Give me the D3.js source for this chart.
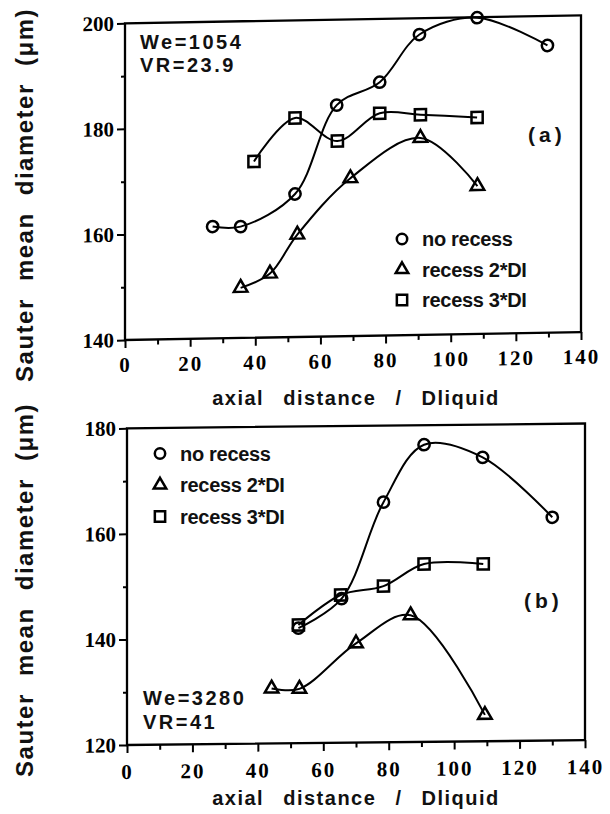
<!DOCTYPE html>
<meta charset="utf-8">
<style>
body { margin: 0; background: #fff; }
svg { display: block; }
.frame { fill: none; stroke: #000; stroke-width: 2.3px; }
.axis path { display: none; }
.axis line { stroke: #000; stroke-width: 2px; }
.curve { fill: none; stroke: #000; stroke-width: 2px; }
.marker { fill: none; stroke: #000; stroke-width: 2.5px; }
.lbl { font-family: "Liberation Sans", Arial, sans-serif; font-weight: bold; fill: #111; }
</style>
<svg width="610" height="814"></svg>
<script src="https://d3js.org/d3.v7.min.js"></script>
<script>

// x ticks, shared by both panels
var xMajor = [0, 20, 40, 60, 80, 100, 120, 140];
var xMinor = [10, 30, 50, 70, 90, 110, 130];

// panel (a): We=1054, VR=23.9
var aNoRecessX = [26.9, 35.5, 52.2, 65.0, 78.2, 90.4, 108.1, 129.7];
var aNoRecessY = [161.2, 161.1, 167.1, 183.8, 188.0, 196.9, 199.9, 194.4];
var aRecess2X  = [35.5, 44.5, 52.9, 69.2, 90.7, 108.2];
var aRecess2Y  = [149.5, 152.1, 159.4, 169.9, 177.3, 168.0];
var aRecess3X  = [39.6, 52.2, 65.2, 78.2, 90.7, 108.1];
var aRecess3Y  = [173.4, 181.5, 177.0, 182.1, 181.7, 181.0];
var aYMajor = [140, 160, 180, 200];
var aYMinor = [150, 170, 190];

// panel (b): We=3280, VR=41
var bNoRecessX = [52.4, 65.6, 78.4, 90.8, 108.7, 130.0];
var bNoRecessY = [141.8, 147.3, 165.5, 176.3, 173.8, 162.3];
var bRecess2X  = [44.2, 52.7, 70.0, 86.7, 109.4];
var bRecess2Y  = [130.4, 130.3, 138.8, 144.0, 125.0];
var bRecess3X  = [52.4, 65.3, 78.4, 90.8, 108.9];
var bRecess3Y  = [142.4, 148.0, 149.6, 153.7, 153.6];
var bYMajor = [120, 140, 160, 180];
var bYMinor = [130, 150, 170];

var legendNames = ["no recess", "recess 2*DI", "recess 3*DI"];
var symbols = [d3.symbolCircle, d3.symbolTriangle, d3.symbolSquare];
var symbolSizes = [100, 80, 125];

var svg = d3.select("svg");

function zip(xs, ys) { return xs.map(function(x, i) { return [x, ys[i]]; }); }

function tickFont(sel, spacing) {
  sel.selectAll("text")
      .style("font-family", "'Liberation Serif', 'Times New Roman', serif")
      .style("font-weight", "bold")
      .style("font-size", "21px")
      .style("letter-spacing", spacing)
      .style("fill", "#000");
}

function drawPanel(p) {
  // the scan is slightly skewed, so the plot body is too
  var g = svg.append("g")
      .attr("transform", "translate(" + p.ox + "," + p.oy + ") skewY(" + p.skew + ")");

  var x = d3.scaleLinear().domain([0, 140]).range([0, p.w]);
  var y = d3.scaleLinear().domain(p.yDomain).range([p.h, 0]);

  g.append("rect").attr("class", "frame")
      .attr("width", p.w).attr("height", p.h);

  g.append("g").attr("class", "axis")
      .attr("transform", "translate(0," + p.h + ")")
      .call(d3.axisBottom(x).tickValues(xMajor).tickSize(8).tickPadding(p.xPad).tickFormat(d3.format("d")))
      .call(tickFont, "2px");
  g.append("g").attr("class", "axis")
      .attr("transform", "translate(0," + p.h + ")")
      .call(d3.axisBottom(x).tickValues(xMinor).tickSize(5).tickFormat(""));

  g.append("g").attr("class", "axis")
      .call(d3.axisLeft(y).tickValues(p.yMajor).tickSize(8).tickPadding(3).tickFormat(d3.format("d")))
      .call(tickFont, "0px");
  g.append("g").attr("class", "axis")
      .call(d3.axisLeft(y).tickValues(p.yMinor).tickSize(4).tickFormat(""));

  var line = d3.line()
      .x(function(d) { return x(d[0]); })
      .y(function(d) { return y(d[1]); })
      .curve(d3.curveCatmullRom.alpha(0.5));

  p.series.forEach(function(s, i) {
    var pts = zip(s[0], s[1]);
    g.append("path").attr("class", "curve").attr("d", line(pts));
    g.selectAll(null).data(pts).enter().append("path")
        .attr("class", "marker")
        .attr("transform", function(d) { return "translate(" + x(d[0]) + "," + y(d[1]) + ")"; })
        .attr("d", d3.symbol().type(symbols[i]).size(symbolSizes[i]));
  });

  // legend
  legendNames.forEach(function(name, i) {
    var ly = p.legY + i * p.legStep;
    svg.append("path").attr("class", "marker")
        .attr("transform", "translate(" + p.legX + "," + ly + ")")
        .attr("d", d3.symbol().type(symbols[i]).size(symbolSizes[i] * 0.85));
    svg.append("text").attr("class", "lbl")
        .attr("x", p.legX + 20).attr("y", ly + 7)
        .style("font-size", "20px").style("letter-spacing", "-0.3px")
        .text(name);
  });

  p.notes.forEach(function(n, i) {
    svg.append("text").attr("class", "lbl")
        .attr("x", p.noteX).attr("y", p.noteY + i * 23.5)
        .style("font-size", "20px").style("letter-spacing", "2.5px")
        .text(n);
  });

  svg.append("text").attr("class", "lbl")
      .attr("x", p.tagX).attr("y", p.tagY)
      .style("font-size", "21px").style("letter-spacing", "4px")
      .text(p.tag);

  svg.append("text").attr("class", "lbl")
      .attr("x", 356).attr("y", p.xTitleY)
      .attr("text-anchor", "middle")
      .style("font-size", "20px").style("letter-spacing", "1.5px").style("word-spacing", "12px")
      .text("axial distance / Dliquid");

  svg.append("text").attr("class", "lbl")
      .attr("transform", "translate(33," + p.yTitleY + ") rotate(-90)")
      .attr("text-anchor", "middle")
      .style("font-size", "24px").style("letter-spacing", "1.5px").style("word-spacing", "9px")
      .text("Sauter mean diameter (\u03bcm)");
}

drawPanel({
  ox: 125, oy: 23.3, w: 456, h: 316.7, skew: -1.0, xPad: 9,
  yDomain: [140, 200], yMajor: aYMajor, yMinor: aYMinor,
  series: [[aNoRecessX, aNoRecessY], [aRecess2X, aRecess2Y], [aRecess3X, aRecess3Y]],
  legX: 402, legY: 239, legStep: 30.5,
  notes: ["We=1054", "VR=23.9"], noteX: 140, noteY: 48.5,
  tag: "(a)", tagX: 528, tagY: 142,
  xTitleY: 405, yTitleY: 195
});

drawPanel({
  ox: 127, oy: 428.3, w: 458, h: 316.7, skew: -0.6, xPad: 11,
  yDomain: [120, 180], yMajor: bYMajor, yMinor: bYMinor,
  series: [[bNoRecessX, bNoRecessY], [bRecess2X, bRecess2Y], [bRecess3X, bRecess3Y]],
  legX: 160, legY: 453.5, legStep: 31.5,
  notes: ["We=3280", "VR=41"], noteX: 143, noteY: 705,
  tag: "(b)", tagX: 524, tagY: 608,
  xTitleY: 805, yTitleY: 590
});

</script>
